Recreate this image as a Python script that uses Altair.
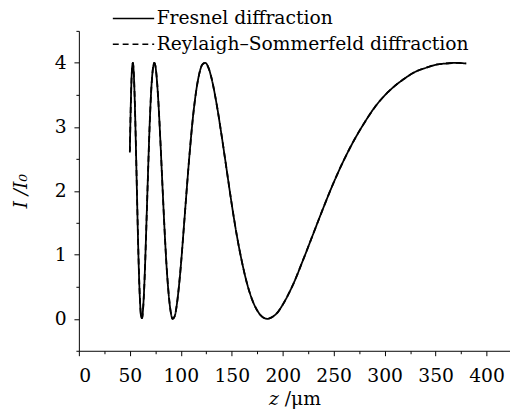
import altair as alt
import pandas as pd

# z positions (um)
z = [50, 51, 52, 53, 54, 55, 56, 57, 58, 59, 60, 61, 62, 63, 64, 65, 66, 67, 68, 69,
     70, 71, 72, 73, 74, 75, 76, 78, 80, 82, 84, 86, 88, 90, 92, 94, 96, 98, 100,
     103, 106, 109, 112, 115, 118, 121, 124, 127, 130, 135, 140, 145, 150, 155, 160,
     165, 170, 175, 180, 185, 190, 195, 200, 210, 220, 230, 240, 250, 260, 270, 280,
     290, 300, 310, 320, 330, 340, 350, 360, 370, 380]

# I/I0 for Fresnel diffraction
fresnel = [2.62, 3.39, 3.87, 4.00, 3.79, 3.31, 2.66, 1.95, 1.26, 0.68, 0.27, 0.04, 0.01,
           0.16, 0.45, 0.86, 1.35, 1.86, 2.36, 2.84, 3.25, 3.58, 3.81, 3.95, 4.00, 3.96,
           3.83, 3.39, 2.77, 2.08, 1.41, 0.83, 0.40, 0.12, 0.00, 0.04, 0.21, 0.48, 0.82,
           1.43, 2.06, 2.65, 3.16, 3.55, 3.82, 3.97, 4.00, 3.93, 3.77, 3.37, 2.87, 2.33,
           1.79, 1.30, 0.89, 0.55, 0.30, 0.13, 0.03, 0.00, 0.03, 0.10, 0.22, 0.53, 0.92,
           1.33, 1.74, 2.13, 2.48, 2.79, 3.06, 3.30, 3.49, 3.64, 3.76, 3.86, 3.92, 3.97,
           3.99, 4.00, 3.99]

# I/I0 for Rayleigh-Sommerfeld diffraction (coincides with Fresnel within line width)
rayleigh = [2.60, 3.37, 3.86, 4.00, 3.80, 3.33, 2.69, 1.98, 1.29, 0.70, 0.28, 0.05, 0.01,
            0.15, 0.44, 0.84, 1.33, 1.84, 2.34, 2.82, 3.24, 3.57, 3.80, 3.95, 4.00, 3.96,
            3.84, 3.40, 2.78, 2.09, 1.42, 0.84, 0.41, 0.12, 0.00, 0.04, 0.21, 0.48, 0.82,
            1.43, 2.06, 2.65, 3.16, 3.55, 3.82, 3.97, 4.00, 3.93, 3.77, 3.37, 2.87, 2.33,
            1.79, 1.30, 0.89, 0.55, 0.30, 0.13, 0.03, 0.00, 0.03, 0.10, 0.22, 0.53, 0.92,
            1.33, 1.74, 2.13, 2.48, 2.79, 3.06, 3.30, 3.49, 3.64, 3.76, 3.86, 3.92, 3.97,
            3.99, 4.00, 3.99]

series = ["Fresnel diffraction", "Reylaigh\u2013Sommerfeld diffraction"]

x_ticks = list(range(0, 425, 25))
y_ticks = [-0.5, 0, 0.5, 1, 1.5, 2, 2.5, 3, 3.5, 4, 4.5]

df = pd.concat([
    pd.DataFrame({"z": z, "I": fresnel, "series": series[0]}),
    pd.DataFrame({"z": z, "I": rayleigh, "series": series[1]}),
])

FONT = "DejaVu Serif"

chart = alt.Chart(df).mark_line(strokeWidth=1.8, interpolate="monotone", color="black").encode(
    x=alt.X("z:Q", scale=alt.Scale(domain=[0, 423], nice=False, zero=False),
            axis=alt.Axis(values=x_ticks, title="\U0001D467 /\u03bcm", labelOverlap=False,
                          labelExpr="datum.value % 50 === 0 ? '' + datum.value : ''",
                          tickSize={"condition": {"test": "datum.value % 50 === 0", "value": 5}, "value": 3},
                          labelPadding=11, titlePadding=5, titleFontStyle="normal")),
    y=alt.Y("I:Q", scale=alt.Scale(domain=[-0.5, 4.5], nice=False, zero=False),
            axis=alt.Axis(values=y_ticks, title="I /I\u2080", labelOverlap=False,
                          labelExpr="datum.value % 1 === 0 ? '' + datum.value : ''",
                          tickSize={"condition": {"test": "datum.value % 1 === 0", "value": 5}, "value": 3},
                          labelPadding=8, titlePadding=24, titleFontStyle="italic")),
    strokeDash=alt.StrokeDash("series:N",
                              scale=alt.Scale(domain=series, range=[[1, 0], [6, 4]]),
                              legend=alt.Legend(title=None, orient="none", legendX=44, legendY=-24,
                                                symbolType="M-2,0H2", symbolSize=441,
                                                symbolStrokeWidth=1.6, symbolStrokeColor="black",
                                                symbolFillColor="transparent",
                                                labelFont=FONT, labelFontSize=19, labelColor="black",
                                                labelOffset=12, rowPadding=4, padding=0,
                                                labelLimit=0, symbolOffset=0)),
    detail="series:N",
).properties(
    width=438, height=325,
    autosize=alt.AutoSizeParams(type="none"),
    padding={"left": 72, "top": 20, "right": 0, "bottom": 62},
).configure_view(stroke=None).configure_axis(
    domainColor="black", tickColor="black", labelColor="black", titleColor="black",
    grid=False, labelFont=FONT, labelFontSize=19, titleFont=FONT, titleFontSize=19,
    titleFontWeight="normal", domainWidth=1, tickWidth=1,
).configure_axisY(labelAngle=0)

chart.save("out.html", embed_options={"renderer": "svg", "actions": False})
